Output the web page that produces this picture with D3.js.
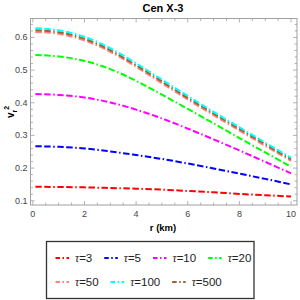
<!DOCTYPE html>
<html>
<head>
<meta charset="utf-8">
<script src="https://cdn.jsdelivr.net/npm/d3@7"></script>
<style>
  body { margin: 0; background: #fff; }
  svg { font-family: "Liberation Sans", Arial, sans-serif; }
</style>
</head>
<body>
<svg id="chart" width="300" height="300"></svg>
<script>
// radius samples (km)
var rVals = [0.1, 1, 2, 3, 4, 5, 6, 7, 8, 9, 10];
// v_r^2 for each tau
var tau3   = [0.143, 0.142, 0.141, 0.139, 0.137, 0.134, 0.130, 0.126, 0.121, 0.117, 0.113];
var tau5   = [0.267, 0.265, 0.260, 0.251, 0.240, 0.228, 0.214, 0.199, 0.183, 0.167, 0.150];
var tau10  = [0.427, 0.424, 0.416, 0.401, 0.379, 0.352, 0.321, 0.288, 0.254, 0.219, 0.184];
var tau20  = [0.546, 0.542, 0.528, 0.503, 0.467, 0.425, 0.381, 0.337, 0.292, 0.248, 0.204];
var tau50  = [0.617, 0.611, 0.591, 0.556, 0.510, 0.460, 0.410, 0.362, 0.315, 0.268, 0.222];
var tau100 = [0.628, 0.622, 0.602, 0.567, 0.521, 0.471, 0.421, 0.372, 0.325, 0.278, 0.232];
var tau500 = [0.622, 0.616, 0.596, 0.561, 0.515, 0.465, 0.415, 0.367, 0.320, 0.273, 0.227];

var seriesNames = ["τ=3", "τ=5", "τ=10", "τ=20", "τ=50", "τ=100", "τ=500"];
var seriesData = [tau3, tau5, tau10, tau20, tau50, tau100, tau500];
var colors = ["#ff0000", "#0000ff", "#ff00ff", "#00ff00", "#ff8080", "#00ffff", "#996633"];
// draw order so cyan sits on top like the reference
var drawOrder = [0, 1, 2, 3, 4, 6, 5];

var xTicks = [0, 2, 4, 6, 8, 10];
var yTicks = [0.1, 0.2, 0.3, 0.4, 0.5, 0.6];

var svg = d3.select("#chart");
var plotLeft = 30.5, plotRight = 297, plotTop = 18.5, plotBottom = 205;

var x = d3.scaleLinear().domain([-0.09, 10.23]).range([plotLeft, plotRight]);
var y = d3.scaleLinear().domain([0.087, 0.658]).range([plotBottom, plotTop]);

var frameColor = "#a0a0a0";
var labelColor = "#444";

// frame
svg.append("rect")
  .attr("x", plotLeft).attr("y", plotTop)
  .attr("width", plotRight - plotLeft).attr("height", plotBottom - plotTop)
  .attr("fill", "none").attr("stroke", frameColor).attr("stroke-width", 1);

// minor + major ticks (inside the frame, all four sides)
var xMinor = d3.range(0, 10.01, 0.5);
var yMinor = d3.range(0.1, 0.6501, 0.02);

xMinor.forEach(function(v) {
  var major = xTicks.indexOf(Math.round(v * 10) / 10) >= 0;
  var len = major ? 4 : 2.5;
  svg.append("line").attr("x1", x(v)).attr("x2", x(v))
    .attr("y1", plotBottom).attr("y2", plotBottom - len)
    .attr("stroke", frameColor).attr("stroke-width", 0.8);
  svg.append("line").attr("x1", x(v)).attr("x2", x(v))
    .attr("y1", plotTop).attr("y2", plotTop + len)
    .attr("stroke", frameColor).attr("stroke-width", 0.8);
});
yMinor.forEach(function(v) {
  var major = yTicks.some(function(t) { return Math.abs(t - v) < 1e-6; });
  var len = major ? 4 : 2.5;
  svg.append("line").attr("y1", y(v)).attr("y2", y(v))
    .attr("x1", plotLeft).attr("x2", plotLeft + len)
    .attr("stroke", frameColor).attr("stroke-width", 0.8);
  svg.append("line").attr("y1", y(v)).attr("y2", y(v))
    .attr("x1", plotRight).attr("x2", plotRight - len)
    .attr("stroke", frameColor).attr("stroke-width", 0.8);
});

// tick labels
svg.selectAll(".xlab").data(xTicks).enter().append("text")
  .attr("x", function(d) { return x(d); })
  .attr("y", plotBottom + 12)
  .attr("text-anchor", "middle")
  .attr("font-size", 9).attr("fill", labelColor)
  .text(function(d) { return d; });

svg.selectAll(".ylab").data(yTicks).enter().append("text")
  .attr("x", plotLeft - 3)
  .attr("y", function(d) { return y(d) + 3; })
  .attr("text-anchor", "end")
  .attr("font-size", 9).attr("fill", labelColor)
  .text(function(d) { return d3.format(".1f")(d); });

// titles
svg.append("text").attr("x", 163).attr("y", 12)
  .attr("text-anchor", "middle").attr("font-size", 11).attr("font-weight", "bold")
  .text("Cen X-3");

svg.append("text").attr("x", 163).attr("y", 231)
  .attr("text-anchor", "middle").attr("font-size", 9.5).attr("font-weight", "bold")
  .text("r (km)");

var yl = svg.append("text")
  .attr("transform", "translate(14,112) rotate(-90)")
  .attr("text-anchor", "middle").attr("font-size", 10).attr("font-weight", "bold");
yl.append("tspan").text("v");
yl.append("tspan").attr("font-size", 7).attr("dy", 3).text("r");
yl.append("tspan").attr("font-size", 7).attr("dy", -8).text("2");

// curves
var lineFunction = d3.line()
  .x(function(d) { return x(d[0]); })
  .y(function(d) { return y(d[1]); })
  .curve(d3.curveNatural);

var dash = "6.5,2.5,6.5,2.5,1.5,2.5";

drawOrder.forEach(function(i) {
  var pts = rVals.map(function(r, k) { return [r, seriesData[i][k]]; });
  svg.append("path")
    .attr("d", lineFunction(pts))
    .attr("fill", "none")
    .attr("stroke", colors[i])
    .attr("stroke-width", 2)
    .attr("stroke-dasharray", dash);
});

// legend
svg.append("rect")
  .attr("x", 46.5).attr("y", 241.5).attr("width", 207.5).attr("height", 57)
  .attr("fill", "#fff").attr("stroke", "#333").attr("stroke-width", 1.3);

var legendRows = [[0, 1, 2, 3], [4, 5, 6]];
legendRows.forEach(function(row, ri) {
  var ly = 258 + ri * 24;
  var lx = 55.5;
  row.forEach(function(i) {
    svg.append("line")
      .attr("x1", lx).attr("x2", lx + 13.5)
      .attr("y1", ly).attr("y2", ly)
      .attr("stroke", colors[i]).attr("stroke-width", 2)
      .attr("stroke-dasharray", "4.5,2.5,1.5,2.5");
    var t = svg.append("text")
      .attr("x", lx + 19.5).attr("y", ly + 4)
      .attr("font-size", 11.5).attr("fill", "#222");
    t.append("tspan").attr("font-style", "italic").attr("font-family", "'Liberation Serif', serif").text("τ");
    t.append("tspan").attr("font-family", "'Liberation Sans', Arial, sans-serif").text(seriesNames[i].slice(1));
    var w = t.node().getComputedTextLength();
    lx = lx + 19.5 + w + 12;
  });
});
</script>
</body>
</html>
